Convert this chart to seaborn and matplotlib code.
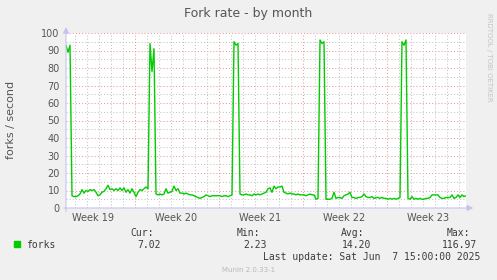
import numpy as np
import pandas as pd
import matplotlib
matplotlib.use("Agg")
import matplotlib.pyplot as plt
import seaborn as sns
from matplotlib.patches import Rectangle

# ---- data (4-hour samples over the 800 h "month" window) ----
forks = [
    93, 89, 93, 7, 6.5, 6.5, 7, 8, 10.5, 8.5,
    10, 9.5, 10.5, 10, 10.5, 9, 7, 7.5, 9, 9.5,
    11, 13, 10.5, 11, 10, 11, 10, 11.5, 10, 11.5,
    9, 10.5, 8.5, 11, 9, 6.5, 9, 10.5, 10, 11,
    12, 11, 94, 78, 91, 8, 7.5, 8, 7.5, 8,
    11, 8.5, 9, 9.5, 12.5, 10, 11, 8.5, 8.5, 8,
    8.5, 8, 7.5, 7.5, 7, 6.5, 6, 5.5, 6, 6.5,
    7.5, 7, 6.5, 7, 7, 7, 7, 7, 6.5, 7,
    7, 6.5, 7, 7.5, 95, 93, 94, 8, 7.5, 7.5,
    8, 7.5, 7.5, 7, 8, 7.5, 8, 7.5, 8, 8.5,
    9, 11, 11.5, 9, 12.5, 11, 12, 12, 12.5, 9,
    8.5, 8, 8.5, 8, 8, 7.5, 8, 7.5, 7.5, 7.5,
    7, 7.5, 8, 7.5, 7.5, 5, 5.5, 96, 94, 95,
    5, 5, 5, 5.5, 9, 5.5, 6, 6, 5.5, 7,
    7.5, 8, 9, 6, 6, 5.5, 6, 6, 6.5, 8,
    6.5, 6, 6, 6.5, 5.5, 6, 6, 5.5, 6, 5.5,
    5.5, 5, 5.5, 5, 5.5, 5, 5.5, 6, 95, 93,
    96, 5.5, 5, 6.5, 5, 5.5, 5, 5.5, 5, 5,
    5.5, 5.5, 6, 7.5, 7.5, 7.5, 7.5, 6, 5.5, 5.5,
    6, 6, 6, 7.5, 5.5, 6, 7.5, 6, 7.5, 6.5,
    7,
]
step_hours = 4
window_hours = 800
first_week_boundary = 137          # Sunday 00:00, hours after window start
week_labels = ["Week 19", "Week 20", "Week 21", "Week 22", "Week 23"]
y_ticks = list(range(0, 101, 10))
stat_headers = ["Cur:", "Min:", "Avg:", "Max:"]
stat_values = ["7.02", "2.23", "14.20", "116.97"]
series_name = "forks"
last_update = "Last update: Sat Jun  7 15:00:00 2025"

sns.set_style("white")
plt.rcParams["font.family"] = ["DejaVu Sans"]

W, H = 497, 280
fig = plt.figure(figsize=(W / 100, H / 100), dpi=100, facecolor="#F0F0F0")
ax = fig.add_axes([66 / W, 72 / H, 400 / W, 175 / H])
ax.set_facecolor("white")

df = pd.DataFrame({"hours": np.arange(len(forks)) * step_hours, "forks": forks})

# grid
dot = (0, (1, 2))
gray = "#C4C4C4"
red = "#EC9A9A"
for y in np.arange(5, 100, 10):
    ax.axhline(y, color=gray, lw=0.75, ls=dot, zorder=0)
for y in np.arange(10, 101, 10):
    ax.axhline(y, color=red, lw=0.75, ls=dot, zorder=0, clip_on=False)
day_lines = np.arange(first_week_boundary % 24, window_hours, 24)
week_lines = np.arange(first_week_boundary, window_hours, 168)
for x in day_lines:
    if x not in week_lines:
        ax.axvline(x, color=gray, lw=0.75, ls=dot, zorder=0)
for x in week_lines:
    ax.axvline(x, color=red, lw=0.75, ls=dot, zorder=0)

sns.lineplot(data=df, x="hours", y="forks", color="#00CC00", linewidth=1.0,
             ax=ax, zorder=3)

ax.set_xlim(0, window_hours)
ax.set_ylim(0, 100)
for s in ax.spines.values():
    s.set_visible(False)

mids = [first_week_boundary - 84 + 168 * k for k in range(len(week_labels))]
ax.set_xticks(mids)
ax.set_xticklabels(week_labels)
ax.set_yticks(y_ticks)
ax.set_yticklabels([str(v) for v in y_ticks])
ax.tick_params(axis="both", length=0, labelsize=7, labelcolor="#555555")
ax.tick_params(axis="x", pad=3.5)
ax.tick_params(axis="y", pad=4.5)
ax.set_xticks(day_lines, minor=True)
ax.tick_params(axis="x", which="minor", length=2, width=0.6, color=gray,
               direction="out")
ax.set_xlabel("")
ax.set_ylabel("")

# axis arrows
arr = dict(arrowstyle="-|>,head_length=0.35,head_width=0.18",
           color="#C4C4F0", lw=0.8, shrinkA=0, shrinkB=0)
ax.annotate("", xy=(1.018, 0), xytext=(-0.005, 0), xycoords="axes fraction",
            arrowprops=arr, annotation_clip=False)
ax.annotate("", xy=(0, 1.034), xytext=(0, -0.02), xycoords="axes fraction",
            arrowprops=arr, annotation_clip=False)

# texts
def fx(px):
    return px / W

def fy(py):
    return 1 - py / H

fig.text(fx(248), fy(14), "Fork rate - by month", ha="center", va="center",
         fontsize=9, color="#555555")
fig.text(fx(11), fy(120), "forks / second", ha="center", va="center",
         rotation=90, fontsize=8, color="#555555")
fig.text(fx(488.5), fy(57), "RRDTOOL / TOBI OETIKER", ha="center", va="center",
         rotation=-90, fontsize=5, color="#C4C4C4")

mono = "DejaVu Sans Mono"
fig.patches.append(Rectangle((fx(14), fy(247)), 6 / W, 6 / H,
                             transform=fig.transFigure, color="#00CC00"))
fig.text(fx(26), fy(245), series_name, ha="left", va="center",
         fontsize=7, family=mono, color="#3C3C3C")
head_x = [142.5, 248.5, 353, 458]
val_x = [149.5, 255, 357, 459.5]
for h, v, hx, vx in zip(stat_headers, stat_values, head_x, val_x):
    fig.text(fx(hx), fy(233.5), h, ha="center", va="center", fontsize=7,
             family=mono, color="#3C3C3C")
    fig.text(fx(vx), fy(245.5), v, ha="center", va="center", fontsize=7,
             family=mono, color="#3C3C3C")
fig.text(fx(372), fy(257.5), last_update, ha="center", va="center",
         fontsize=7, family=mono, color="#3C3C3C")
fig.text(fx(248.5), fy(269.5), "Munin 2.0.33-1", ha="center", va="center",
         fontsize=5, color="#B8B8B8")

fig.savefig("out.png", dpi=100, facecolor=fig.get_facecolor())
